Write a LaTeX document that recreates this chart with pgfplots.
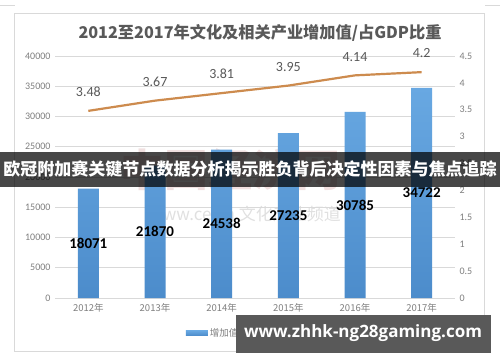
\documentclass[border=0pt]{standalone}
\usepackage{pgfplots}
\pgfplotsset{compat=1.18}
\usepackage{pgfplotstable}
\usepackage{fontspec}
\setmainfont{Carlito}
\newfontfamily\cjk{Noto Sans CJK SC}
\newfontfamily\wmfont{Open Sans}
\definecolor{barblue}{HTML}{5B9BD5}
\definecolor{bartop}{HTML}{68A8E2}
\definecolor{barbot}{HTML}{4C8CCB}
\definecolor{lineor}{HTML}{CD8B4E}
\definecolor{gridc}{HTML}{D9D9D9}
\definecolor{tickc}{HTML}{7F7F7F}
\definecolor{titlec}{HTML}{595959}
\pgfplotstableread{
x v
0 18071
1 21870
2 24538
3 27235
4 30785
5 34722
}\bardata
\pgfplotstableread{
x r
0 3.48
1 3.67
2 3.81
3 3.95
4 4.14
5 4.2
}\ratiodata
\begin{document}
\begin{tikzpicture}[x=1bp,y=1bp]
\useasboundingbox (0,0) rectangle (500,362);
\fill[white] (0,0) rectangle (500,362);
\draw[gridc, line width=0.8bp] (0,357) -- (15,357);
\draw[gridc, line width=0.8bp] (485,357) -- (500,357);
\draw[gridc, line width=0.8bp] (14,11) rectangle (484,349);
% faint background watermark
\node[text=red!55!black, opacity=0.12, font=\cjk\bfseries\fontsize{44bp}{46bp}\selectfont] at (230,192) {中国经济网};
\node[text=black, opacity=0.12, font=\cjk\fontsize{17bp}{19bp}\selectfont] at (245,148) {www.ce.cn\ 文化产业频道};
\node[text=titlec, font=\cjk\bfseries\fontsize{16.2bp}{19bp}\selectfont] at (260,329) {2012至2017年文化及相关产业增加值/占GDP比重};
\begin{axis}[
  at={(55bp,64bp)}, anchor=south west,
  width=400bp, height=242bp, scale only axis,
  xmin=-0.5, xmax=5.5, ymin=0, ymax=40000,
  xtick={0,1,2,3,4,5},
  xticklabels={2012年,2013年,2014年,2015年,2016年,2017年},
  ytick={0,5000,...,40000},
  scaled y ticks=false,
  /pgf/number format/1000 sep={},
  /pgf/number format/assume math mode=true,
  ymajorgrids, grid style={gridc, line width=0.7bp},
  axis line style={draw=none},
  major tick length=0pt,
  yticklabel style={text=tickc, font=\fontsize{10bp}{12bp}\selectfont, xshift=-1bp},
  xticklabel style={text=tickc, font=\cjk\fontsize{9.5bp}{11bp}\selectfont, yshift=-2bp},
  legend columns=2,
  legend style={at={(0.5,-0.145)}, anchor=center, draw=none, fill=none,
    font=\cjk\fontsize{9.5bp}{11bp}\selectfont, text=tickc,
    /tikz/every even column/.append style={column sep=8bp}},
  clip=false,
]
\addplot[ybar, bar width=21bp, draw=none, top color=bartop, bottom color=barbot,
  legend image code/.code={\fill[barblue] (0bp,-2.5bp) rectangle (22bp,2.5bp);}]
  table[x=x, y=v] {\bardata};
\addlegendentry{增加值}
\addlegendimage{lineor, line width=2bp, legend image code/.code={\draw[lineor, line width=2bp] (0bp,0bp) -- (22bp,0bp);}}
\addlegendentry{占GDP比重}
\addplot[draw=none, mark=none, forget plot, nodes near coords, point meta=explicit symbolic,
  every node near coord/.append style={anchor=center, inner sep=0pt, text=black,
    font=\bfseries\fontsize{15bp}{17bp}\selectfont}]
  table[x=x, y expr=\thisrow{v}/2, meta=v] {\bardata};
\end{axis}
\begin{axis}[
  at={(55bp,64bp)}, anchor=south west,
  width=400bp, height=242bp, scale only axis,
  xmin=-0.5, xmax=5.5, ymin=0, ymax=4.5,
  axis y line*=right, axis x line=none,
  ytick={0,0.5,...,4.5},
  /pgf/number format/assume math mode=true,
  axis line style={draw=none},
  major tick length=0pt,
  yticklabel style={text=tickc, font=\fontsize{10bp}{12bp}\selectfont, xshift=1bp},
  clip=false,
]
\addplot[lineor, line width=2.2bp, mark=none, nodes near coords, point meta=explicit symbolic,
  every node near coord/.append style={anchor=south, inner sep=0pt, yshift=13bp, text=titlec,
    font=\fontsize{14bp}{16bp}\selectfont}]
  table[x=x, y=r, meta=r] {\ratiodata};
\end{axis}
% overlay banner
\fill[black, opacity=0.72] (0,175) rectangle (500,210);
\node[text=white, font=\cjk\bfseries\fontsize{17bp}{19bp}\selectfont] at (250,192.5) {欧冠附加赛关键节点数据分析揭示胜负背后决定性因素与焦点追踪};
% site watermark
\fill[black!65] (236,9) rectangle (491,47);
\node[text=white, font=\wmfont\bfseries\fontsize{17bp}{19bp}\selectfont] at (363,29) {www.zhhk-ng28gaming.com};
\end{tikzpicture}
\end{document}
